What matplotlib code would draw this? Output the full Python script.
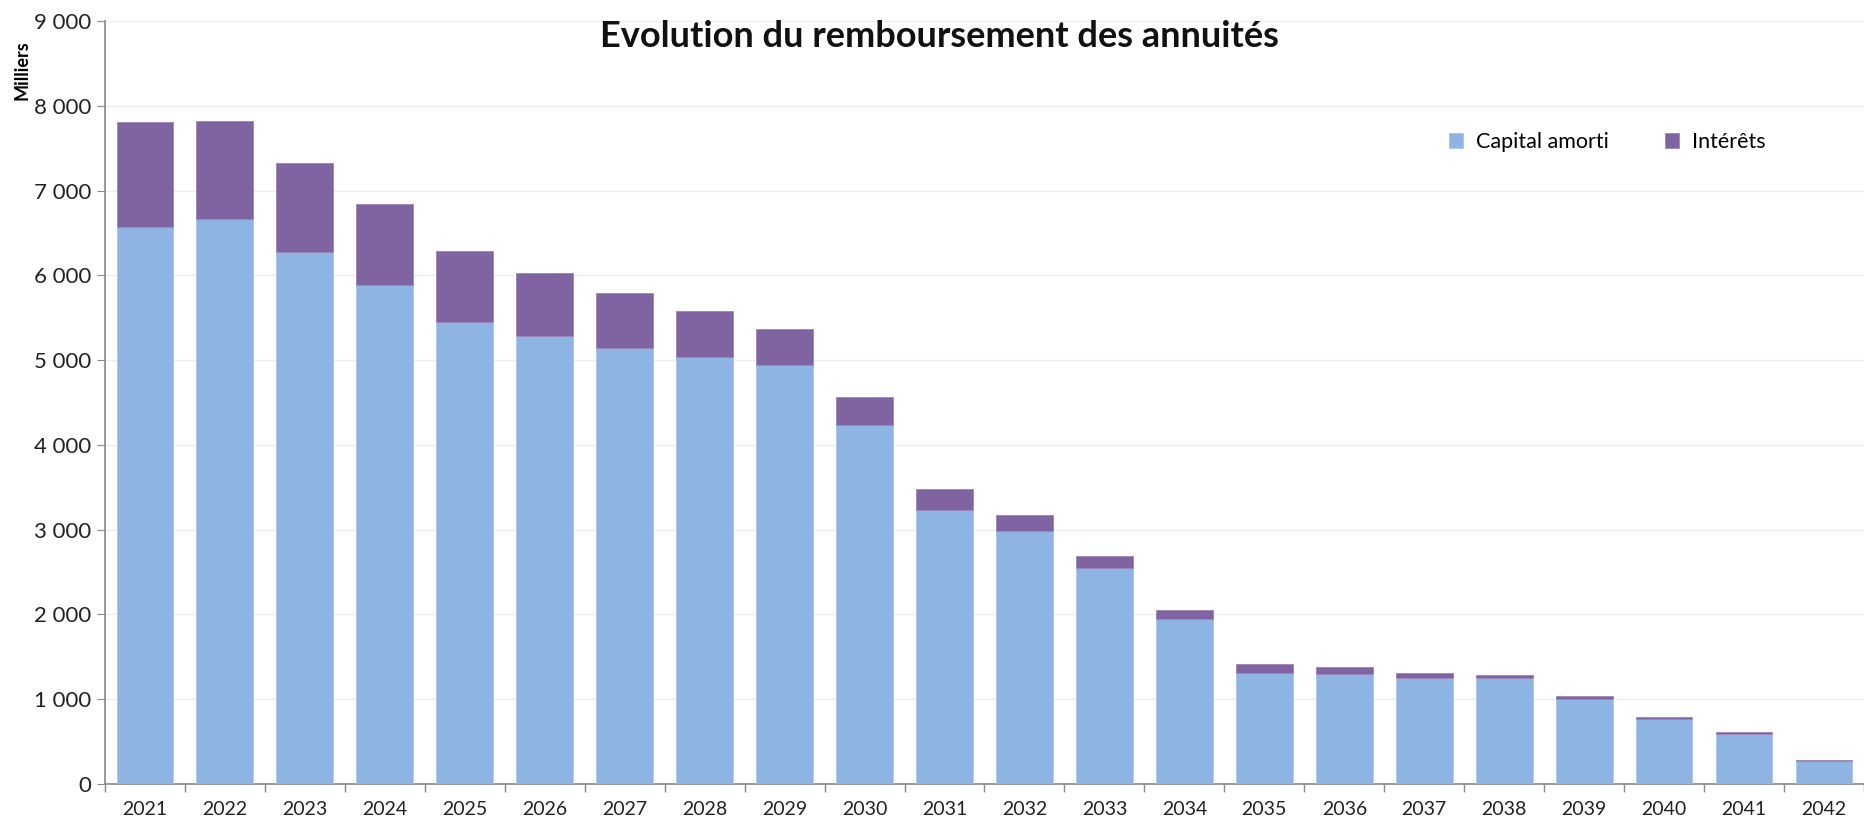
import numpy as np
import matplotlib
matplotlib.use('Agg')
import matplotlib.pyplot as plt
from matplotlib.ticker import FuncFormatter, FixedLocator

plt.rcParams['font.family'] = ['Lato', 'DejaVu Sans']

# values, in thousands
years = [str(y) for y in range(2021, 2043)]
capital = [6570, 6670, 6280, 5885, 5450, 5280, 5140, 5040, 4945, 4230, 3230,
           2990, 2545, 1948, 1315, 1303, 1245, 1245, 1006, 771, 595, 270]
totals = [7810, 7820, 7330, 6840, 6290, 6025, 5790, 5575, 5365, 4565, 3485,
          3175, 2685, 2055, 1417, 1378, 1307, 1284, 1033, 790, 611, 286]
interets = [t - c for t, c in zip(totals, capital)]

col_cap = '#8EB4E3'
col_int = '#8064A2'

fig = plt.figure(figsize=(18.64, 8.22), dpi=100)
ax = fig.add_axes([0.0563, 0.0462, 0.9437, 0.9283])

x = np.arange(len(years))
ax.bar(x, capital, width=0.71, color=col_cap, edgecolor='#A9C6EA', linewidth=0.6,
       label='Capital amorti', zorder=3)
ax.bar(x, interets, width=0.71, bottom=capital, color=col_int, edgecolor='#9A84B8',
       linewidth=0.6, label='Intérêts', zorder=3)

ax.set_xlim(-0.5, len(years) - 0.5)
ax.set_ylim(0, 9000)
ax.set_yticks(range(0, 9001, 1000))
ax.yaxis.set_major_formatter(FuncFormatter(lambda v, p: f"{int(v):,}".replace(',', ' ')))
ax.set_xticks(x)
ax.set_xticklabels(years)
ax.xaxis.set_minor_locator(FixedLocator(np.arange(-0.5, len(years), 1.0)))
ax.tick_params(axis='x', which='major', length=0, labelsize=14, colors='#222222', pad=12)
ax.tick_params(axis='x', which='minor', length=6, color='#888888', width=1)
ax.tick_params(axis='y', length=6, color='#888888', labelsize=16, colors='#222222', pad=4)

ax.grid(axis='y', color='#EEEEEE', linewidth=1, zorder=0)
for s in ['top', 'right']:
    ax.spines[s].set_visible(False)
for s in ['left', 'bottom']:
    ax.spines[s].set_color('#888888')
    ax.spines[s].set_linewidth(1.2)

fig.text(0.504, 0.955, 'Evolution du remboursement des annuités', ha='center', va='center',
         fontsize=26, fontweight='bold', color='#111111')
fig.text(0.012, 0.915, 'Milliers', rotation=90, ha='center', va='center',
         fontsize=13, fontweight='bold')

ax.legend(loc='upper left', bbox_to_anchor=(0.753, 0.88), ncol=2, frameon=False,
          fontsize=15.5, handlelength=0.65, handleheight=0.65, columnspacing=2.6,
          handletextpad=0.6)

fig.savefig('out.png', dpi=100, facecolor='white')
